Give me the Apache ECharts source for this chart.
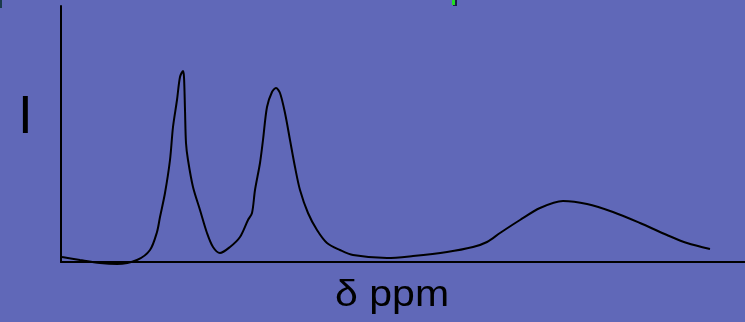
<!DOCTYPE html>
<html>
<head>
<meta charset="utf-8">
<script src="https://cdn.jsdelivr.net/npm/echarts@6/dist/echarts.min.js"></script>
<style>
html,body{margin:0;padding:0;background:#6068B8;}
#c{width:745px;height:322px;}
</style>
</head>
<body>
<div id="c"></div>
<script>
// Chemical shift position (arbitrary units, left→right) and intensity
var shift     = [1, 19, 39, 56, 76, 89, 96, 99, 104, 109, 112, 116, 119, 122, 123, 124, 125, 127, 132, 139, 146, 152, 159, 169, 179, 187, 191, 194, 199, 202, 206, 211, 215, 219, 224, 229, 234, 239, 247, 256, 266, 279, 292, 326, 352, 386, 412, 426, 439, 459, 479, 502, 526, 552, 579, 606, 626, 649];
var intensity = [5, 2, -1, -2, 2, 12, 30, 45, 69, 102, 135, 162, 185, 191, 185, 152, 119, 102, 75, 52, 29, 15, 9, 15, 25, 42, 49, 72, 99, 122, 155, 170, 174, 169, 149, 122, 95, 72, 49, 32, 19, 12, 7, 4, 6, 10, 15, 20, 29, 42, 54, 61, 58, 50, 39, 27, 19, 13];
var xLabel = "δ ppm";
var yLabel = "I";

var chart = echarts.init(document.getElementById('c'), null, {renderer: 'canvas'});
chart.setOption({
  backgroundColor: '#6068B8',
  animation: false,
  grid: {left: 61, right: 0, top: 6, bottom: 60},
  xAxis: {
    type: 'value', min: 0, max: 684,
    axisLine: {show: true, onZero: false, lineStyle: {color: '#000', width: 2}},
    axisTick: {show: false}, axisLabel: {show: false}, splitLine: {show: false}
  },
  yAxis: {
    type: 'value', min: 0, max: 256,
    axisLine: {show: true, onZero: false, lineStyle: {color: '#000', width: 2}},
    axisTick: {show: false}, axisLabel: {show: false}, splitLine: {show: false}
  },
  series: [{
    type: 'line',
    data: shift.map(function (x, i) { return [x, intensity[i]]; }),
    smooth: 0.3,
    showSymbol: false,
    lineStyle: {color: '#000', width: 2},
    clip: false
  }],
  graphic: [
    {type: 'text', left: 18, top: 92, style: {text: yLabel, font: '53px "Liberation Sans", Arial, sans-serif', fill: '#000'}},
    {type: 'text', x: 335, y: 278, scaleX: 1.14, style: {text: xLabel, font: '36px "Liberation Sans", Arial, sans-serif', fill: '#000'}},
    {type: 'rect', shape: {x: 453, y: 0, width: 4, height: 6}, style: {fill: '#1a1f4a'}},
    {type: 'rect', shape: {x: 452, y: 0, width: 3, height: 5}, style: {fill: '#22dd22'}},
    {type: 'rect', shape: {x: 0, y: 0, width: 2, height: 8}, style: {fill: '#1a3a4a'}}
  ]
});
</script>
</body>
</html>
